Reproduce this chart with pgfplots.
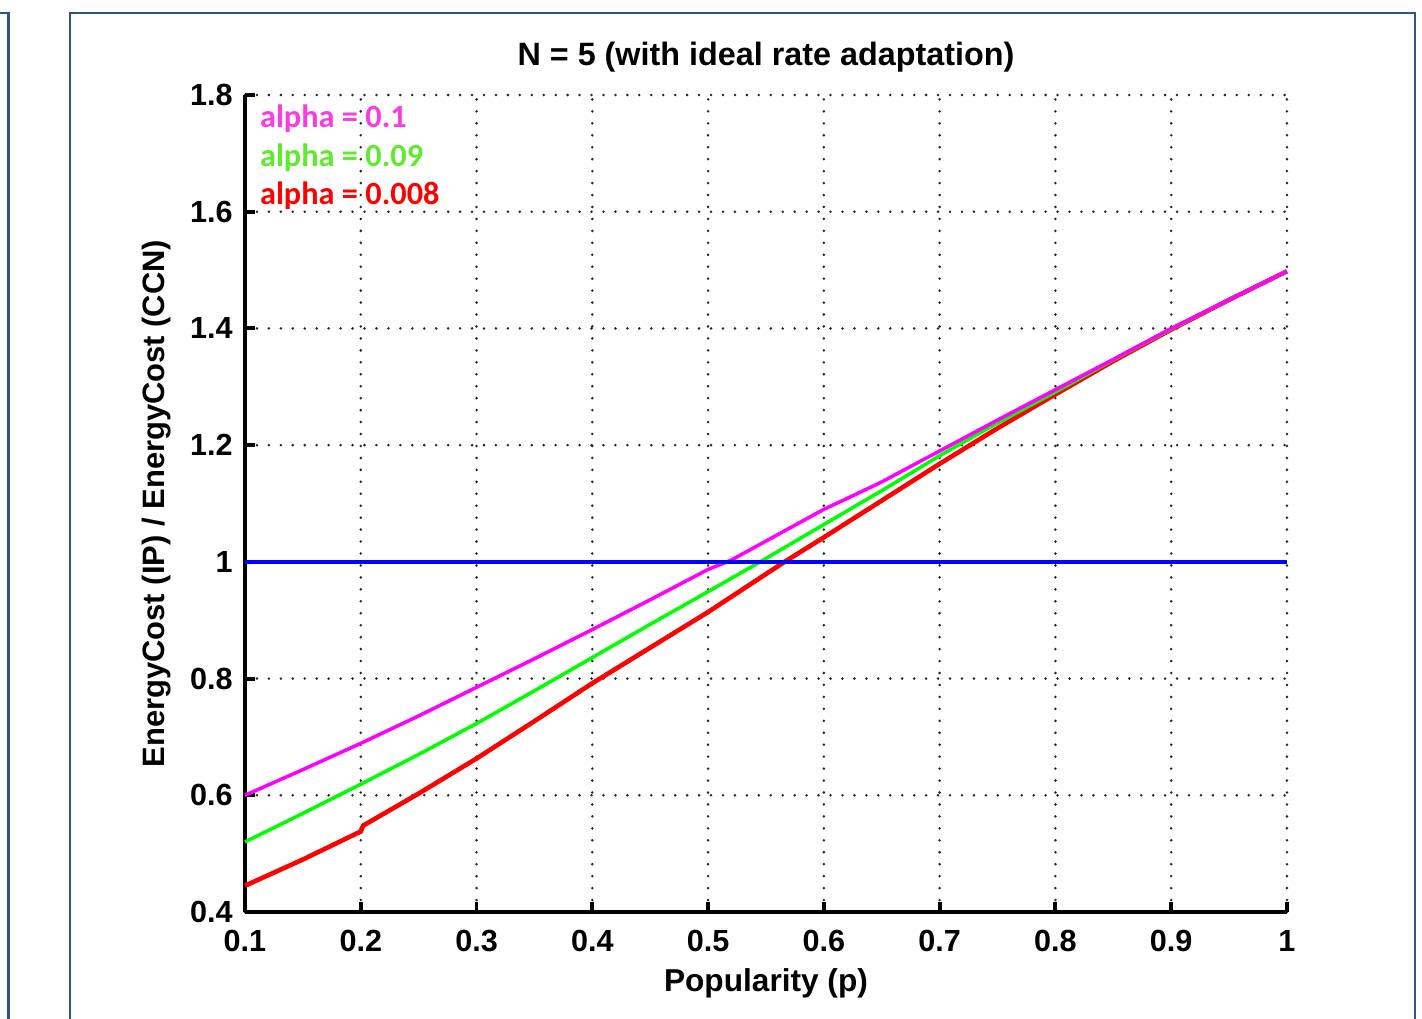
\documentclass[border=0pt]{standalone}
\usepackage{fontspec}
\setmainfont{Liberation Sans}
\newfontfamily\legfont{Carlito}
\usepackage{pgfplots}
\pgfplotsset{compat=1.18}
\definecolor{framecol}{RGB}{46,84,140}
\definecolor{legmag}{RGB}{250,60,225}
\definecolor{leggreen}{RGB}{95,235,45}
\definecolor{mmag}{RGB}{255,0,255}
\definecolor{mgreen}{RGB}{0,255,0}
\definecolor{mred}{RGB}{255,0,0}
\definecolor{mblue}{RGB}{0,0,255}

\begin{document}
\begin{tikzpicture}
\useasboundingbox (-2.45,-1.06) rectangle (11.77,9.12);
\clip (-2.45,-1.06) rectangle (11.77,9.12);
% figure frames
\draw[framecol, line width=0.75pt] (-1.75,-1.5) -- (-1.75,8.99) -- (11.70,8.99) -- (11.70,-1.5);
\draw[framecol, line width=0.75pt] (-2.6,8.99) -- (-2.367,8.99) -- (-2.367,-1.5);

\begin{axis}[
    at={(0,0)}, anchor=south west,
    scale only axis, width=10.42cm, height=8.17cm,
    xmin=0.1, xmax=1, ymin=0.4, ymax=1.8,
    axis x line*=bottom, axis y line*=left,
    axis line style={black, line width=1.1pt},
    xtick={0.1,0.2,...,1.0}, ytick={0.4,0.6,...,1.8},
    tick align=inside, major tick length=0.1cm,
    tick style={black, line width=1.1pt},
    /pgf/number format/assume math mode=true,
    /pgf/number format/fixed, /pgf/number format/precision=1,
    ticklabel style={font=\fontsize{8.7}{10}\selectfont\bfseries},
    xticklabel style={yshift=-0.06cm},
    grid=major,
    major grid style={black!85, line width=0.8pt, line cap=round, dash pattern=on 0pt off 3.4pt},
    title={N = 5 (with ideal rate adaptation)},
    title style={font=\fontsize{9.2}{11}\selectfont\bfseries, at={(axis description cs:0.5,1)}, anchor=center, yshift=0.17cm},
    xlabel={Popularity (p)},
    xlabel style={font=\fontsize{9}{11}\selectfont\bfseries, at={(axis description cs:0.5,0)}, anchor=center, yshift=-0.71cm},
    ylabel={EnergyCost (IP) / EnergyCost (CCN)},
    ylabel style={font=\fontsize{8.8}{11}\selectfont\bfseries, at={(axis description cs:0,0.5)}, anchor=center, yshift=0.88cm},
    clip=false,
]
\addplot[mred, line width=1.3pt] coordinates {
    (0.1,0.445) (0.15,0.490) (0.2,0.538) (0.202,0.548) (0.25,0.603) (0.3,0.663)
    (0.35,0.727) (0.4,0.792) (0.45,0.853) (0.5,0.914) (0.566,1.000)
    (0.6,1.042) (0.65,1.105) (0.7,1.168) (0.75,1.229) (0.8,1.287)
    (0.85,1.344) (0.9,1.398) (0.95,1.449) (1.0,1.498)
};
\addplot[mgreen, line width=1pt] coordinates {
    (0.1,0.520) (0.15,0.569) (0.2,0.619) (0.25,0.670) (0.3,0.723)
    (0.35,0.779) (0.4,0.836) (0.45,0.893) (0.5,0.949) (0.545,1.000)
    (0.6,1.064) (0.65,1.122) (0.7,1.182) (0.75,1.238) (0.8,1.291)
    (0.85,1.346) (0.9,1.399) (0.95,1.449) (1.0,1.498)
};
\addplot[mmag, line width=1pt] coordinates {
    (0.1,0.600) (0.15,0.644) (0.2,0.689) (0.25,0.736) (0.3,0.785)
    (0.35,0.834) (0.4,0.884) (0.45,0.935) (0.5,0.987) (0.52,1.003)
    (0.6,1.090) (0.63,1.118) (0.65,1.137) (0.7,1.190) (0.75,1.243)
    (0.8,1.295) (0.85,1.347) (0.9,1.400) (0.95,1.449) (1.0,1.498)
};
\addplot[mblue, line width=1.1pt] coordinates {(0.1,1) (1.0,1)};

\node[anchor=base west, inner sep=0, text=legmag, font=\legfont\fontsize{9.2}{11}\selectfont\bfseries] at (axis cs:0.1124,1.745) {alpha = 0.1};
\node[anchor=base west, inner sep=0, text=leggreen, font=\legfont\fontsize{9.2}{11}\selectfont\bfseries] at (axis cs:0.1124,1.677) {alpha = 0.09};
\node[anchor=base west, inner sep=0, text=mred, font=\legfont\fontsize{9.2}{11}\selectfont\bfseries] at (axis cs:0.1124,1.612) {alpha = 0.008};
\end{axis}
\end{tikzpicture}
\end{document}
